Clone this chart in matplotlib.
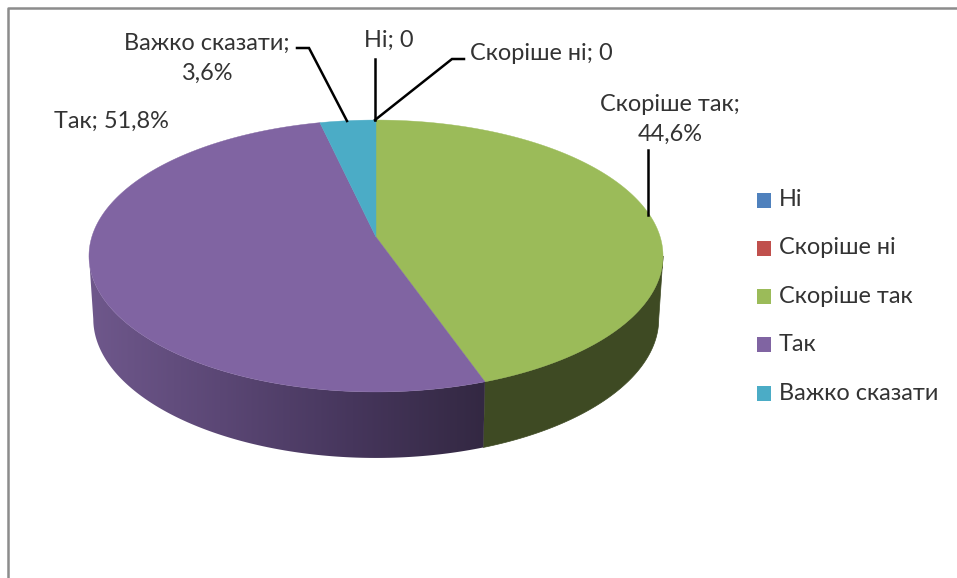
import matplotlib
matplotlib.use("Agg")
import matplotlib.pyplot as plt
import numpy as np
from matplotlib.patches import Polygon, Rectangle

# shares of answers, clockwise from 12 o'clock
categories = ["Ні", "Скоріше ні", "Скоріше так", "Так", "Важко сказати"]
values = [0, 0, 44.6, 51.8, 3.6]
top_colors = ["#4f81bd", "#c0504d", "#9bbb59", "#8064a2", "#4bacc6"]
wall_colors = ["#2a4565", "#66302e", "#3e4a23", "#4d3c62", "#2d6778"]
data_labels = ["Ні; 0", "Скоріше ні; 0", "Скоріше так;\n44,6%", "Так; 51,8%", "Важко сказати;\n3,6%"]

plt.rcParams["font.family"] = ["Lato", "Open Sans", "DejaVu Sans"]
TEXT = "#333333"
FS = 16.9

# pie apex in pixels and the perspective of the tilted disc
CX, CY = 376, 237
A, B, P = 133.3, 284.2, 0.1397
DEPTH = 66


def project(theta):
    u, v = np.sin(theta), np.cos(theta)
    d = 1 + P * v
    return CX + B * u / d, CY - A * v / d


def project_low(theta):
    x, y = project(theta)
    return CX + 0.985 * (x - CX), y + DEPTH - 3 * np.sin(theta) ** 2


fig = plt.figure(figsize=(9.57, 5.78), dpi=100)
ax = fig.add_axes([0, 0, 1, 1])
ax.set_xlim(0, 957)
ax.set_ylim(578, 0)
ax.axis("off")

# chart frame, open at the bottom
ax.plot([7.5, 7.5, 957], [578, 7.5, 7.5], color="#8c8c8c", lw=1.8, zorder=1)

edges = np.cumsum([0] + values) / 100 * 2 * np.pi
right_side = np.arccos(-P)

# side wall
for i in range(len(values)):
    a0, a1 = max(edges[i], right_side), min(edges[i + 1], 2 * np.pi - right_side)
    if values[i] == 0 or a1 <= a0:
        continue
    t = np.linspace(a0, a1, 120)
    xt, yt = project(t)
    xb, yb = project_low(t)
    pts = np.r_[np.c_[xt, yt], np.c_[xb, yb][::-1]]
    if categories[i] == "Так":
        poly = Polygon(pts, closed=True, fc="none", ec="none", transform=ax.transData)
        ax.add_patch(poly)
        grad = np.linspace(0, 1, 256).reshape(1, -1)
        cmap = matplotlib.colors.LinearSegmentedColormap.from_list(
            "wall", ["#6f588c", "#5b4775", "#46365c", "#332842"])
        im = ax.imshow(grad, extent=[xb.min() - 6, xt.max() + 1, 578, 0], cmap=cmap,
                       aspect="auto", zorder=2)
        im.set_clip_path(poly)
        ax.set_xlim(0, 957)
        ax.set_ylim(578, 0)
    else:
        ax.fill(pts[:, 0], pts[:, 1], color=wall_colors[i], lw=0.5, zorder=2)

# top face
for i in range(len(values)):
    if values[i] == 0:
        continue
    t = np.linspace(edges[i], edges[i + 1], 200)
    x, y = project(t)
    ax.fill(np.r_[CX, x], np.r_[CY, y], color=top_colors[i], lw=0.3, zorder=3)

# leader lines
leaders = [
    ([297, 309, 347], [48, 48, 121]),
    ([375, 375], [59, 120]),
    ([464, 452, 375], [59, 59, 120]),
    ([648, 648], [150, 215]),
]
for lx, ly in leaders:
    ax.plot(lx, ly, color="black", lw=1.8, zorder=4, solid_joinstyle="miter")

# data labels
label_pos = [(389, 40), (541, 53), (670, 119.5), (111, 121), (207, 58.5)]
for s, (lx, ly) in zip(data_labels, label_pos):
    ax.text(lx, ly, s, ha="center", va="center", fontsize=FS, color=TEXT, linespacing=1.55, zorder=5)

# legend
legend_y = [200, 248, 296.5, 344.5, 393]
for name, c, ly in zip(categories, top_colors, legend_y):
    ax.add_patch(Rectangle((757, ly - 7.5), 14, 15, fc=c, ec="none", zorder=4))
    ax.text(779, ly, name, ha="left", va="center", fontsize=FS, color=TEXT, zorder=5)

fig.savefig("out.png", dpi=100)
